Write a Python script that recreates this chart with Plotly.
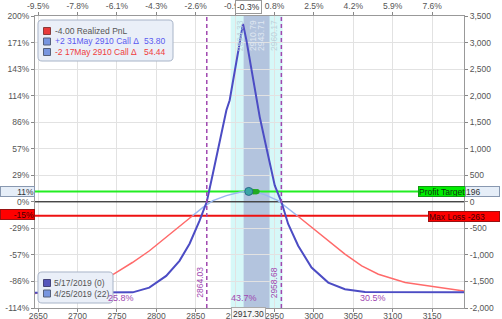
import plotly.graph_objects as go

# ---------------- data ----------------
prices_exp = [2646, 2728, 2770, 2791, 2812.5, 2829.4, 2842.2, 2854.9, 2864.03, 2871.8, 2880.3, 2888.9,
              2893.1, 2901.6, 2910, 2914.3, 2922.7, 2931.2, 2940, 2950.3, 2958.68, 2967.3, 2980, 2997,
              3018.2, 3039.4, 3064.9, 3115.8, 3190.5]
pnl_exp = [-1712, -1712, -1705, -1616, -1395, -1111, -790, -355, 0, 533, 1157, 1724,
           1913, 2668, 3350, 3046, 2289, 1600, 1000, 310, 0, -418, -828, -1238,
           -1521, -1646, -1697, -1700, -1703]

prices_t0 = [2646, 2728, 2748.9, 2769.6, 2791.3, 2812.5, 2833.6, 2846, 2859.1, 2871.8, 2888.9,
             2905.8, 2916, 2925, 2937.6, 2954.5, 2967.3, 2979, 2997, 3018.2, 3039.4, 3060.7,
             3081.8, 3115.8, 3150, 3190.5]
pnl_t0 = [-1725, -1521, -1332, -1143, -922, -671, -418, -263, -104, 23, 117,
          180, 198, 190, 136, 23, -134, -263, -482, -733, -985, -1206,
          -1363, -1521, -1590, -1678]

marker_prices = [2919, 2920.5, 2922, 2923.5, 2925, 2926.5, 2928]
marker_pnl = [205, 188, 200, 183, 196, 186, 192]
current_price = 2917.30
current_pnl = 196

profit_target = 196
max_loss = -263
breakevens = [2864.03, 2958.68]
band_outer = [2894.33, 2960.17]
band_inner = [2910.79, 2943.71]
prob_labels = ["25.8%", "43.7%", "30.5%"]

x_ticks = [2650, 2700, 2750, 2800, 2850, 2900, 2950, 3000, 3050, 3100, 3150]
x_tick_text = ["2650", "2700", "2750", "2800", "2850", "2900", "2950", "3000", "3050", "3100", "3150"]
top_tick_text = ["-9.5%", "-7.8%", "-6.1%", "-4.3%", "-2.6%", "-0.9%", "0.8%", "2.5%", "4.2%", "5.9%", "7.6%"]
y_ticks = [-2000, -1500, -1000, -500, 0, 500, 1000, 1500, 2000, 2500, 3000, 3500]
y_right_text = ["-2,000", "-1,500", "-1,000", "-500", "0", "500", "1,000", "1,500", "2,000", "2,500", "3,000", "3,500"]
y_left_text = ["-114%", "-86%", "-57%", "-29%", "0%", "29%", "57%", "86%", "114%", "143%", "171%", "200%"]

X_RANGE = [2646, 3190.5]
Y_RANGE = [-2000, 3500]

# ---------------- geometry helpers ----------------
W, H = 502, 319
L, R, T, B = 35, 464, 16, 308
PW, PH = R - L, B - T


def px(xp):
    return (xp - L) / PW


def py(yp):
    return (B - yp) / PH


def rrect(x0, y0, x1, y1, r=4):
    X = lambda v: f"{px(v):.5f}"
    Y = lambda v: f"{py(v):.5f}"
    return (f"M {X(x0+r)},{Y(y0)} L {X(x1-r)},{Y(y0)} Q {X(x1)},{Y(y0)} {X(x1)},{Y(y0+r)} "
            f"L {X(x1)},{Y(y1-r)} Q {X(x1)},{Y(y1)} {X(x1-r)},{Y(y1)} L {X(x0+r)},{Y(y1)} "
            f"Q {X(x0)},{Y(y1)} {X(x0)},{Y(y1-r)} L {X(x0)},{Y(y0+r)} Q {X(x0)},{Y(y0)} {X(x0+r)},{Y(y0)} Z")


FONT = "Liberation Sans, Arial, sans-serif"
FS = 8.5
fig = go.Figure()

# horizontal reference lines
fig.add_trace(go.Scatter(x=X_RANGE, y=[0, 0], mode="lines", line=dict(color="black", width=1),
                         hoverinfo="skip", showlegend=False))
fig.add_trace(go.Scatter(x=X_RANGE, y=[profit_target] * 2, mode="lines", line=dict(color="#22ee22", width=2),
                         hoverinfo="skip", showlegend=False))
fig.add_trace(go.Scatter(x=X_RANGE, y=[max_loss] * 2, mode="lines", line=dict(color="#ee1111", width=2),
                         hoverinfo="skip", showlegend=False))

# T+0 curve: red below max loss, light blue above
t0_red = [v if v <= max_loss else None for v in pnl_t0]
t0_blue = [v if v >= max_loss else None for v in pnl_t0]
fig.add_trace(go.Scatter(x=prices_t0, y=t0_red, mode="lines", line=dict(color="#ff6a6a", width=1.5),
                         connectgaps=False, showlegend=False))
fig.add_trace(go.Scatter(x=prices_t0, y=t0_blue, mode="lines", line=dict(color="#9ab8f0", width=1.5),
                         connectgaps=False, showlegend=False))

# expiration curve
fig.add_trace(go.Scatter(x=prices_exp, y=pnl_exp, mode="lines", line=dict(color="#4c4cc4", width=2),
                         showlegend=False))

# markers
fig.add_trace(go.Scatter(x=marker_prices, y=marker_pnl, mode="markers",
                         marker=dict(color="#22aa22", size=5), showlegend=False))
fig.add_trace(go.Scatter(x=[current_price], y=[current_pnl], mode="markers",
                         marker=dict(color="#3aa6a6", size=8, line=dict(color="#2a6a8a", width=1)),
                         showlegend=False))

# invisible traces for secondary axes
fig.add_trace(go.Scatter(x=X_RANGE, y=[0, 0], xaxis="x2", yaxis="y", mode="lines", opacity=0,
                         hoverinfo="skip", showlegend=False))
fig.add_trace(go.Scatter(x=X_RANGE, y=[0, 0], xaxis="x", yaxis="y2", mode="lines", opacity=0,
                         hoverinfo="skip", showlegend=False))

shapes = []
# bands
shapes.append(dict(type="rect", xref="x", yref="paper", x0=band_outer[0], x1=band_outer[1], y0=0, y1=1,
                   fillcolor="#d6f8f8", line=dict(width=0), layer="below"))
shapes.append(dict(type="rect", xref="x", yref="paper", x0=band_inner[0], x1=band_inner[1], y0=0, y1=1,
                   fillcolor="#b3c4de", line=dict(width=0), layer="below"))
# breakeven dashed lines
for be in breakevens:
    shapes.append(dict(type="line", xref="x", yref="paper", x0=be, x1=be, y0=0, y1=1,
                       line=dict(color="#a048b0", width=1.5, dash="4px,3px"), layer="above"))
# legend boxes
shapes.append(dict(type="path", xref="paper", yref="paper", path=rrect(38, 20, 173, 61),
                   fillcolor="#eaeff8", line=dict(color="#a8b4c8", width=1), layer="above"))
shapes.append(dict(type="path", xref="paper", yref="paper", path=rrect(38, 272, 113, 303),
                   fillcolor="#eaeff8", line=dict(color="#a8b4c8", width=1), layer="above"))


def square(xc, yc, fill, edge, s=7):
    return dict(type="rect", xref="paper", yref="paper", x0=px(xc - s / 2), x1=px(xc + s / 2),
                y0=py(yc + s / 2), y1=py(yc - s / 2), fillcolor=fill, line=dict(color=edge, width=1),
                layer="above")


shapes.append(square(47, 31, "#e83a3a", "#8a3a3a"))
shapes.append(square(47, 41.5, "#7896e0", "#55607a"))
shapes.append(square(47, 52, "#7896e0", "#55607a"))
shapes.append(square(47, 283, "#5656bc", "#44447a"))
shapes.append(square(47, 293.5, "#7896e0", "#55607a"))

annotations = []


def txt(xp, yp, text, color="#555", size=FS, xanchor="left", **kw):
    annotations.append(dict(xref="paper", yref="paper", x=px(xp), y=py(yp), text=text, showarrow=False,
                            xanchor=xanchor, yanchor="middle", font=dict(family=FONT, size=size, color=color), **kw))


txt(53, 31, "-4.00 Realized PnL", "#555")
txt(53, 41.5, "+2 31May 2910 Call Δ", "#5a5af0")
txt(168, 41.5, "53.80", "#5a5af0", xanchor="right")
txt(53, 52, "-2 17May 2910 Call Δ", "#f03c3c")
txt(168, 52, "54.44", "#f03c3c", xanchor="right")
txt(52, 283, "5/17/2019 (0)", "#555")
txt(52, 293.5, "4/25/2019 (22)", "#555")

# probability labels
prob_x = [(X_RANGE[0] + breakevens[0]) / 2, (breakevens[0] + breakevens[1]) / 2, (breakevens[1] + X_RANGE[1]) / 2]
for xv, t in zip(prob_x, prob_labels):
    annotations.append(dict(xref="x", yref="paper", x=xv, y=py(298), text=t, showarrow=False,
                            xanchor="center", yanchor="middle", font=dict(family=FONT, size=9, color="#a048b0")))

# breakeven labels (rotated)
for be in breakevens:
    annotations.append(dict(xref="x", yref="paper", x=be, y=py(300), text=f"{be:.2f}", showarrow=False,
                            textangle=-90, xanchor="right", yanchor="bottom", xshift=-0.5,
                            font=dict(family=FONT, size=8.5, color="#a048b0")))

# band labels (rotated)
band_lbl = [(band_outer[0], "left", "#bcd2dc"), (band_inner[0], "left", "#e0e8f2"),
            (band_inner[1], "right", "#e0e8f2"), (band_outer[1], "right", "#bcd2dc")]
for xv, side, col in band_lbl:
    annotations.append(dict(xref="x", yref="paper", x=xv, y=py(18), text=f"{xv:.2f}", showarrow=False,
                            textangle=-90, xanchor=side, yanchor="top", xshift=(2 if side == "left" else -2),
                            font=dict(family=FONT, size=8.5, color=col)))

# current price boxes
annotations.append(dict(xref="x", yref="paper", x=current_price, y=py(313.5), text="2917.30", showarrow=False,
                        xanchor="center", yanchor="middle", bgcolor="#f6f6f6", bordercolor="#aaaaaa",
                        borderwidth=1, borderpad=1, font=dict(family=FONT, size=FS, color="#333")))
annotations.append(dict(xref="x", yref="paper", x=current_price, y=py(7), text="-0.3%", showarrow=False,
                        xanchor="center", yanchor="middle", bgcolor="#ffffff", bordercolor="#999999",
                        borderwidth=1, borderpad=1, font=dict(family=FONT, size=FS, color="#333")))


def box(x0, yc, w, h, text, bg, border, color, align="left"):
    annotations.append(dict(xref="paper", yref="paper", x=px(x0), y=py(yc), text=text, showarrow=False,
                            xanchor="left", yanchor="middle", width=w, height=h, align=align,
                            bgcolor=bg, bordercolor=border, borderwidth=1, borderpad=0,
                            font=dict(family=FONT, size=FS, color=color)))


box(418, 191.5, 46, 9, "Profit Target", "#00ee00", "#119911", "#113311")
box(465, 191.5, 33, 9, "196", "#e6eef8", "#8898b0", "#333")
box(428, 216, 70, 9, "Max Loss -263", "#ff0000", "#991111", "#440000")
box(0, 191, 33, 9, "11%", "#e6eef8", "#8898b0", "#333", align="right")
box(0, 215, 33, 9, "-15%", "#ff0000", "#991111", "#440000", align="right")

axis_common = dict(showline=True, linecolor="#999999", linewidth=1, ticks="outside", ticklen=3,
                   tickcolor="#888888", automargin=False, tickfont=dict(family=FONT, size=FS, color="#555"))

fig.update_layout(
    width=W, height=H, margin=dict(l=L, r=W - R, t=T, b=H - B, pad=0, autoexpand=False),
    paper_bgcolor="white", plot_bgcolor="white", showlegend=False,
    xaxis=dict(range=X_RANGE, tickvals=x_ticks, ticktext=x_tick_text, showgrid=True, gridcolor="#e2e2e2",
               zeroline=False, ticklabelstandoff=-3, **axis_common),
    xaxis2=dict(range=X_RANGE, overlaying="x", side="top", anchor="y", tickvals=x_ticks,
                ticktext=top_tick_text, showgrid=False, zeroline=False, **axis_common),
    yaxis=dict(range=Y_RANGE, tickvals=y_ticks, ticktext=y_left_text, showgrid=True, gridcolor="#e2e2e2",
               zeroline=False, **axis_common),
    yaxis2=dict(range=Y_RANGE, overlaying="y", side="right", anchor="x", tickvals=y_ticks,
                ticktext=y_right_text, showgrid=False, zeroline=False, **axis_common),
    shapes=shapes, annotations=annotations,
)

fig.write_html("out.html")
